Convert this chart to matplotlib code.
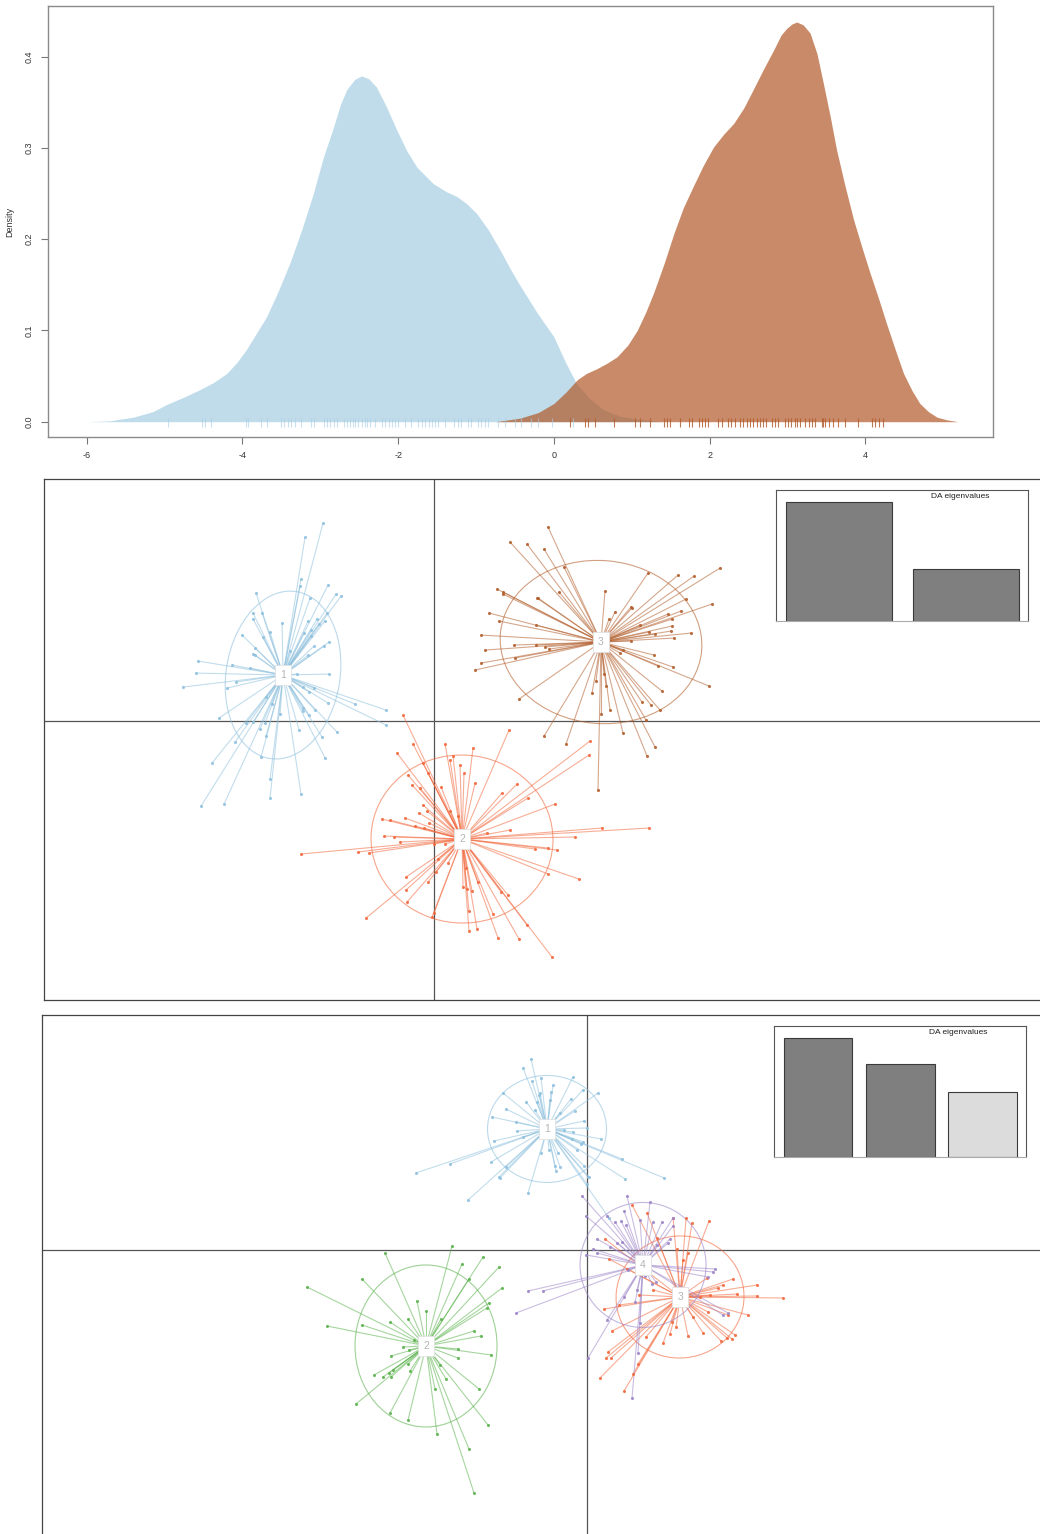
import numpy as np
import matplotlib
matplotlib.use("Agg")
import matplotlib.pyplot as plt
from matplotlib.patches import Ellipse
from matplotlib.collections import LineCollection

plt.rcParams['font.family'] = ['Liberation Sans', 'DejaVu Sans']

# ---------------- density of the discriminant function (2 groups)
dens1_x = [-6.0, -5.7, -5.4, -5.15, -4.97, -4.75, -4.55, -4.37, -4.2, -4.07, -3.95, -3.82,
           -3.69, -3.54, -3.39, -3.24, -3.09, -2.96, -2.83, -2.74, -2.66, -2.56, -2.47,
           -2.38, -2.28, -2.15, -2.02, -1.89, -1.76, -1.55, -1.38, -1.25, -1.12, -0.99,
           -0.84, -0.69, -0.55, -0.44, -0.22, 0.0, 0.15, 0.29, 0.45, 0.64, 0.85, 1.06, 1.4]
dens1_y = [0.0, 0.001, 0.005, 0.011, 0.019, 0.027, 0.035, 0.043, 0.053, 0.065, 0.079, 0.097,
           0.115, 0.143, 0.174, 0.210, 0.250, 0.290, 0.323, 0.348, 0.364, 0.375, 0.379,
           0.376, 0.367, 0.345, 0.320, 0.297, 0.279, 0.261, 0.252, 0.247, 0.239, 0.228,
           0.210, 0.188, 0.166, 0.150, 0.120, 0.093, 0.065, 0.042, 0.026, 0.013, 0.006, 0.003, 0.0]
dens2_x = [-0.75, -0.43, -0.2, 0.0, 0.15, 0.30, 0.42, 0.55, 0.68, 0.81, 0.95, 1.07, 1.18,
           1.28, 1.41, 1.54, 1.66, 1.79, 1.92, 2.05, 2.18, 2.31, 2.44, 2.56, 2.69, 2.82,
           2.92, 2.99, 3.06, 3.12, 3.2, 3.29, 3.38, 3.46, 3.55, 3.63, 3.74, 3.85, 3.96,
           4.06, 4.17, 4.27, 4.38, 4.49, 4.60, 4.70, 4.81, 4.92, 5.05, 5.19]
dens2_y = [0.0, 0.004, 0.010, 0.020, 0.032, 0.046, 0.053, 0.058, 0.064, 0.071, 0.084, 0.100,
           0.120, 0.141, 0.172, 0.206, 0.234, 0.258, 0.281, 0.301, 0.315, 0.327, 0.344,
           0.364, 0.386, 0.407, 0.424, 0.431, 0.436, 0.438, 0.435, 0.426, 0.403, 0.371,
           0.334, 0.298, 0.258, 0.221, 0.190, 0.163, 0.135, 0.108, 0.080, 0.053, 0.034,
           0.020, 0.011, 0.005, 0.002, 0.0]
rug1 = [-4.95, -4.52, -4.48, -4.40, -3.95, -3.93, -3.76, -3.68, -3.50, -3.46, -3.42, -3.37,
        -3.33, -3.25, -3.12, -3.08, -2.95, -2.91, -2.87, -2.83, -2.78, -2.70, -2.66, -2.62,
        -2.58, -2.55, -2.51, -2.47, -2.43, -2.40, -2.36, -2.30, -2.21, -2.17, -2.12, -2.08,
        -2.04, -2.00, -1.91, -1.83, -1.74, -1.70, -1.66, -1.61, -1.57, -1.53, -1.49, -1.40,
        -1.28, -1.23, -1.19, -1.10, -1.06, -0.97, -0.93, -0.89, -0.84, -0.72, -0.63, -0.50,
        -0.42, -0.30, -0.20, -0.02, 0.25]
rug2 = [0.21, 0.40, 0.44, 0.53, 0.77, 1.04, 1.11, 1.24, 1.41, 1.45, 1.49, 1.62, 1.73, 1.77,
        1.86, 1.90, 1.94, 1.98, 2.11, 2.16, 2.24, 2.28, 2.33, 2.39, 2.43, 2.48, 2.52, 2.56,
        2.61, 2.65, 2.69, 2.73, 2.80, 2.84, 2.88, 2.97, 3.01, 3.05, 3.10, 3.12, 3.16, 3.23,
        3.27, 3.31, 3.35, 3.44, 3.46, 3.48, 3.53, 3.59, 3.65, 3.74, 3.91, 4.08, 4.12, 4.17, 4.23]

# ---------------- DAPC scatter, K = 3
k3_g1 = [(-11.1, 19.8), (-12.9, 18.4), (-13.3, 14.2), (-13.4, 13.5), (-17.8, 12.8), (-10.6, 13.6),
         (-9.8, 12.7), (-9.3, 12.5), (-12.4, 12.3), (-18.1, 10.8), (-17.2, 10.8), (-18.1, 10.2),
         (-15.2, 9.8), (-12.6, 10.0), (-11.7, 10.2), (-10.7, 10.8), (-10.9, 10.0), (-11.5, 9.7),
         (-16.4, 8.9), (-19.2, 8.6), (-17.1, 8.4), (-13.0, 8.8), (-12.3, 9.1), (-12.3, 8.5),
         (-10.5, 7.9), (-11.0, 7.5), (-12.0, 7.5), (-17.9, 7.3), (-18.1, 6.7), (-17.9, 6.6),
         (-12.6, 6.6), (-14.4, 7.0), (-23.6, 6.0), (-20.2, 5.6), (-18.4, 5.3), (-23.8, 4.8),
         (-10.5, 4.7), (-13.7, 4.7), (-25.1, 3.4), (-20.7, 3.3), (-19.8, 3.9), (-13.1, 3.4),
         (-12.0, 3.3), (-12.5, 2.9), (-7.9, 1.7), (-4.8, 1.1), (-4.8, -0.4), (-10.6, 1.8),
         (-11.9, 1.1), (-13.1, 1.3), (-13.1, 1.0), (-12.5, 0.6), (-16.8, 2.4), (-16.2, 1.7),
         (-21.5, 0.3), (-18.8, -0.2), (-18.1, -0.1), (-17.4, -0.8), (-16.9, -0.2), (-15.4, 0.7),
         (-13.5, -0.9), (-16.8, -1.5), (-11.2, -1.6), (-9.7, -1.1), (-19.9, -2.1), (-17.3, -3.6),
         (-10.9, -3.7), (-22.2, -4.2), (-16.4, -5.8), (-13.3, -7.3), (-16.4, -7.7), (-21.0, -8.3),
         (-23.3, -8.5)]
k3_g2 = [(-3.1, 0.6), (-2.1, -2.3), (-3.7, -3.2), (1.1, -2.3), (3.9, -2.7), (7.5, -0.9),
         (-1.1, -4.2), (1.6, -3.9), (1.9, -3.5), (2.6, -4.4), (3.0, -5.2), (-2.6, -5.4),
         (-0.6, -5.2), (-2.2, -6.4), (-1.4, -6.7), (0.7, -6.6), (4.1, -6.2), (15.6, -2.0),
         (15.5, -3.4), (8.3, -6.3), (6.8, -7.2), (9.4, -7.7), (12.1, -8.3), (-1.1, -8.4),
         (-0.7, -9.0), (-1.5, -9.2), (1.6, -9.0), (2.4, -9.5), (-5.2, -9.8), (-4.4, -9.9),
         (-2.9, -9.7), (-1.9, -10.5), (-1.0, -10.7), (-0.5, -10.2), (16.8, -10.7), (21.5, -10.7),
         (7.6, -10.9), (5.3, -11.2), (14.1, -11.6), (-5.0, -11.5), (-4.0, -11.6), (-3.4, -12.1),
         (1.1, -12.3), (0.0, -12.3), (-13.3, -13.3), (-7.6, -13.1), (-6.5, -13.2), (10.1, -12.8),
         (11.4, -12.7), (12.3, -12.9), (14.5, -15.8), (11.4, -15.3), (0.4, -13.8), (1.4, -14.2),
         (0.2, -15.1), (-2.8, -15.6), (-2.8, -16.9), (-0.6, -16.1), (-2.7, -18.1), (-6.8, -19.7),
         (-0.2, -19.6), (0.0, -19.2), (2.9, -16.6), (3.3, -16.8), (3.8, -17.0), (4.4, -16.1),
         (3.5, -19.0), (3.5, -21.0), (4.3, -20.8), (5.9, -19.3), (6.7, -17.1), (7.4, -17.4),
         (6.4, -21.7), (8.5, -21.8), (9.3, -20.4), (11.8, -23.6), (3.2, -14.7)]
k3_g3 = [(11.4, 19.4), (7.6, 17.9), (9.3, 17.7), (11.0, 17.2), (13.0, 15.4), (12.5, 12.9),
         (6.3, 13.2), (6.9, 12.9), (6.9, 12.7), (10.3, 12.3), (10.4, 12.3), (5.5, 10.8),
         (6.5, 10.0), (10.2, 9.6), (4.7, 8.6), (8.0, 7.6), (10.2, 7.6), (11.1, 7.4), (5.1, 7.1),
         (11.5, 7.2), (8.1, 6.3), (4.7, 5.8), (4.1, 5.1), (8.5, 2.2), (17.1, 13.0), (18.1, 10.9),
         (19.7, 11.4), (19.8, 11.3), (21.4, 14.8), (24.4, 14.6), (26.0, 14.5), (28.6, 15.3),
         (25.2, 12.2), (27.8, 11.7), (24.7, 11.0), (23.4, 10.7), (23.8, 10.2), (20.6, 9.6),
         (23.8, 9.5), (23.7, 9.0), (21.5, 8.9), (22.1, 8.7), (25.7, 8.8), (24.0, 8.3),
         (19.7, 8.0), (22.0, 6.6), (18.6, 6.8), (22.4, 5.5), (23.9, 5.4), (27.5, 3.5),
         (22.8, 3.0), (20.8, 1.9), (21.7, 1.6), (22.6, 1.1), (21.2, 0.1), (17.0, 4.7),
         (17.2, 3.5), (16.2, 4.0), (15.8, 2.8), (17.6, 1.1), (16.7, 0.7), (18.9, -1.2),
         (22.1, -2.6), (21.3, -3.5), (11.0, -1.5), (13.2, -2.3), (16.4, -6.9), (17.5, 10.2),
         (18.9, 7.1)]
k3_centers = [(-15.1, 4.6), (2.8, -11.8), (16.7, 7.9)]
k3_ell_w = [11.4, 18.2, 20.2]
k3_ell_h = [16.9, 16.8, 16.3]
k3_ell_angle = [-9, -3, -5]
k3_eig = [420.5, 183.8]

# ---------------- DAPC scatter, K = 4
k4_g1 = [(-5.6, 19.1), (-6.4, 18.2), (-4.6, 17.2), (-5.5, 16.9), (-3.4, 16.5), (-1.4, 17.3),
         (-3.6, 15.8), (-4.7, 15.7), (-4.8, 15.5), (-8.4, 15.7), (-0.4, 16.0), (1.1, 15.7),
         (-1.6, 15.1), (-3.7, 15.0), (-6.1, 14.8), (-5.0, 14.8), (-8.1, 14.1), (-5.2, 14.0),
         (-2.7, 13.7), (-1.2, 13.9), (-9.5, 13.3), (-7.1, 12.8), (-0.3, 12.9), (0.0, 12.2),
         (-1.4, 11.8), (-2.3, 12.0), (-7.0, 11.9), (-9.3, 10.9), (-6.4, 11.3), (1.4, 11.1),
         (-0.4, 10.8), (-1.5, 11.1), (-0.6, 10.6), (-1.0, 10.0), (-3.8, 10.0), (-4.6, 9.7),
         (-2.9, 9.7), (-9.6, 8.8), (-8.1, 8.3), (-13.7, 8.6), (-17.1, 7.7), (-3.2, 8.4),
         (-3.1, 7.9), (-2.7, 8.3), (-0.3, 8.4), (-8.8, 7.3), (-8.7, 7.2), (-5.9, 5.7),
         (-11.9, 5.0), (0.1, 7.3), (0.2, 7.3), (3.8, 7.1), (3.5, 9.1), (7.7, 7.2), (0.0, 6.6),
         (2.2, 3.2)]
k4_g2 = [(-13.5, 0.4), (-20.2, -0.3), (-12.5, -1.4), (-10.4, -0.7), (-8.8, -1.7), (-22.5, -2.9),
         (-28.0, -3.7), (-11.8, -2.9), (-8.5, -3.8), (-9.8, -5.3), (-10.0, -5.8), (-17.0, -5.1),
         (-16.1, -6.1), (-17.9, -6.9), (-14.6, -6.9), (-19.7, -7.2), (-22.5, -7.5), (-26.0, -7.6),
         (-11.3, -8.1), (-10.6, -8.6), (-17.3, -9.0), (-18.4, -9.7), (-17.8, -10.0), (-12.9, -9.9),
         (-9.6, -10.5), (-12.9, -10.8), (-19.6, -10.6), (-17.9, -11.4), (-14.7, -11.5),
         (-21.3, -12.5), (-20.4, -12.7), (-19.8, -12.3), (-19.6, -12.7), (-19.4, -12.0),
         (-17.7, -12.1), (-14.1, -12.9), (-15.2, -13.9), (-10.8, -13.9), (-23.1, -15.4),
         (-19.7, -16.3), (-17.9, -17.0), (-15.0, -18.4), (-9.9, -17.5), (-11.8, -19.9),
         (-11.3, -24.3)]
k4_g3 = [(4.5, 4.5), (6.0, 3.7), (8.6, 3.2), (9.9, 3.2), (10.5, 2.7), (12.2, 2.9), (1.8, 1.1),
         (7.0, 1.2), (9.0, 0.1), (10.1, -0.3), (9.6, -1.0), (2.2, -0.9), (4.0, -1.9), (14.6, -2.9),
         (13.6, -3.5), (17.0, -3.5), (15.0, -4.4), (17.0, -4.6), (19.6, -4.8), (12.3, -4.5),
         (11.3, -4.7), (1.7, -5.9), (3.2, -5.5), (5.2, -4.5), (6.6, -4.0), (16.1, -6.5),
         (14.1, -6.5), (12.1, -6.2), (10.6, -6.7), (2.5, -8.1), (5.9, -8.7), (7.6, -9.3),
         (8.3, -8.4), (8.9, -7.7), (10.1, -8.6), (11.6, -8.3), (13.4, -9.1), (14.0, -8.8),
         (14.5, -8.9), (14.8, -8.5), (2.1, -10.2), (1.9, -10.8), (2.4, -10.8), (5.1, -11.4),
         (4.6, -12.4), (1.3, -12.8), (3.7, -14.1), (8.5, -7.2), (12.0, -2.8), (13.1, -3.8)]
k4_g4 = [(4.0, 5.4), (6.3, 4.8), (2.0, 3.4), (-0.1, 3.4), (-0.5, 5.4), (3.7, 3.9), (2.8, 2.8),
         (3.4, 2.9), (3.9, 2.5), (5.3, 3.0), (6.6, 2.8), (7.5, 2.8), (8.6, 3.2), (8.6, 2.4),
         (1.0, 1.1), (3.0, 0.7), (3.5, 0.8), (8.1, 0.7), (7.0, 0.5), (0.6, 0.1), (-0.1, -0.5),
         (1.0, -0.3), (12.8, -1.9), (12.1, -2.7), (-5.9, -4.1), (-4.4, -4.1), (-7.1, -6.3),
         (4.1, -2.0), (5.0, -4.0), (4.8, -5.2), (2.0, -7.0), (5.3, -7.3), (6.9, -3.2),
         (6.5, -3.4), (5.8, -2.6), (13.6, -6.5), (14.1, -6.3), (0.1, -10.8), (5.1, -10.3),
         (4.5, -14.8), (2.3, 0.3), (8.3, 1.1), (12.6, -2.2), (3.7, -4.7)]
k4_centers = [(-4.0, 12.1), (-16.1, -9.6), (9.3, -4.7), (5.6, -1.5)]
k4_ell_w = [11.9, 14.2, 12.8, 12.6]
k4_ell_h = [10.7, 16.2, 12.2, 12.5]
k4_ell_angle = [0, 0, 6, 0]
k4_eig = [310.2, 241.9, 168.0]

blue, orange, brown, green, purple = "#8fc1de", "#f26a3f", "#b3602e", "#5cb34e", "#9e86c9"

fig = plt.figure(figsize=(10.4, 15.34), dpi=100)

# ---------------- top: densities
ax = fig.add_axes([0.04615, 0.7151, 0.9087, 0.2810])
ax.fill_between(dens1_x, dens1_y, color="#a6cee3", alpha=0.7, lw=0)
ax.fill_between(dens2_x, dens2_y, color="#b15928", alpha=0.7, lw=0)
ax.vlines(rug1, -0.006, 0.004, color="#a6cee3", lw=0.8, alpha=0.6)
ax.vlines(rug2, -0.006, 0.004, color="#b15928", lw=0.8, alpha=0.8)
ax.set_xlim(-6.497, 5.64)
ax.set_ylim(-0.0168, 0.4556)
ax.set_xticks([-6, -4, -2, 0, 2, 4])
ax.set_xticklabels(["-6", "-4", "-2", "0", "2", "4"])
ax.set_yticks([0, 0.1, 0.2, 0.3, 0.4])
ax.set_yticklabels(["0.0", "0.1", "0.2", "0.3", "0.4"], rotation=90, va="center")
ax.tick_params(labelsize=6.5, length=5, width=0.8, color="#777777", labelcolor="#333333", pad=5)
ax.set_ylabel("Density", fontsize=6.5, color="#333333", labelpad=8)
for s in ax.spines.values():
    s.set_color("#8a8a8a")
    s.set_linewidth(1.0)


def draw_scatter(rect, groups, cols, centers, ell_w, ell_h, ell_a, xlim, ylim):
    ax = fig.add_axes(rect)
    ax.axhline(0, color="#555555", lw=0.9, zorder=1)
    ax.axvline(0, color="#555555", lw=0.9, zorder=1)
    for i, (pts, col) in enumerate(zip(groups, cols)):
        cx, cy = centers[i]
        pts = np.array(pts)
        segs = [[(cx, cy), (px, py)] for px, py in pts]
        ax.add_collection(LineCollection(segs, colors=col, linewidths=0.8, alpha=0.55, zorder=2))
        ax.scatter(pts[:, 0], pts[:, 1], s=5, color=col, alpha=0.9, lw=0, zorder=3)
        ax.add_patch(Ellipse((cx, cy), ell_w[i], ell_h[i], angle=ell_a[i], fill=False,
                             ec=col, lw=0.8, alpha=0.6, zorder=2))
        ax.text(cx, cy, str(i + 1), ha="center", va="center", fontsize=7.5, color="#b5b5b5",
                bbox=dict(boxstyle="square,pad=0.5", fc="white", ec="#e2e2e2", lw=0.6), zorder=5)
    ax.set_xlim(*xlim)
    ax.set_ylim(*ylim)
    ax.set_aspect("equal", adjustable="box")
    ax.set_xticks([])
    ax.set_yticks([])
    for s in ax.spines.values():
        s.set_color("#444444")
        s.set_linewidth(0.9)
    return ax


def draw_eig(rect, vals, cols, xlim):
    ax = fig.add_axes(rect)
    ax.set_facecolor("white")
    ax.bar(range(len(vals)), vals, width=0.835, color=cols, edgecolor="#3a3a3a", lw=0.8)
    ax.set_xlim(*xlim)
    ax.set_ylim(0, max(vals) * 1.10)
    ax.set_xticks([])
    ax.set_yticks([])
    for s in ax.spines.values():
        s.set_color("#555555")
        s.set_linewidth(0.8)
    ax.spines["bottom"].set_color("#aaaaaa")
    ax.text(0.73, 0.947, "DA eigenvalues", transform=ax.transAxes, ha="center", va="center",
            fontsize=6, color="#222222")


draw_scatter([0.0423, 0.3481, 0.9587, 0.3396], [k3_g1, k3_g2, k3_g3], [blue, orange, brown],
             k3_centers, k3_ell_w, k3_ell_h, k3_ell_angle, (-39.0, 60.7), (-27.9, 24.2))
draw_eig([0.7462, 0.5952, 0.2423, 0.0854], k3_eig, ["#7f7f7f", "#7f7f7f"], (-0.5, 1.49))

draw_scatter([0.0404, -0.00065, 0.9606, 0.3390], [k4_g1, k4_g2, k4_g3, k4_g4],
             [blue, green, orange, purple], k4_centers, k4_ell_w, k4_ell_h, k4_ell_angle,
             (-54.5, 45.4), (-28.5, 23.5))
draw_eig([0.7442, 0.2458, 0.2423, 0.0854], k4_eig, ["#7f7f7f", "#7f7f7f", "#dcdcdc"], (-0.537, 2.53))

fig.savefig("out.png", dpi=100)
